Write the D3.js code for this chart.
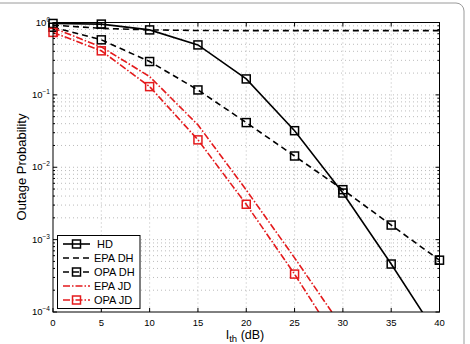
<!DOCTYPE html>
<html>
<head>
<meta charset="utf-8">
<script src="https://cdn.jsdelivr.net/npm/d3@7"></script>
<style>
  html, body { margin: 0; padding: 0; background: #fff; }
  svg { display: block; font-family: "Liberation Sans", Arial, sans-serif; }
</style>
</head>
<body>
<svg id="chart" width="470" height="344"></svg>
<script>
(function () {
  "use strict";
  // threshold I_th in dB
  var xs = [0, 5, 10, 15, 20, 25, 30, 35, 40];
  // outage probability
  var hd    = [0.97, 0.95, 0.79, 0.49, 0.166, 0.032, 0.0044, 0.00046, 0.000043];
  var epaDH = [0.92, 0.83, 0.79, 0.775, 0.772, 0.772, 0.772, 0.772, 0.772];
  var opaDH = [0.86, 0.576, 0.289, 0.117, 0.0414, 0.0143, 0.0049, 0.00159, 0.00052];
  var epaJD = [0.84, 0.46, 0.179, 0.0385, 0.00485, 0.00056, 0.00006];
  var opaJD = [0.73, 0.406, 0.130, 0.0239, 0.00308, 0.000334, 0.00003];
  var xTicks = [0, 5, 10, 15, 20, 25, 30, 35, 40];
  var yTicks = [1e-4, 1e-3, 1e-2, 1e-1, 1];

  var series = [
    { name: "HD", v: hd, color: "#000", dash: null, marker: true },
    { name: "EPA DH", v: epaDH, color: "#000", dash: "6,4", marker: false },
    { name: "OPA DH", v: opaDH, color: "#000", dash: "6,4", marker: true },
    { name: "EPA JD", v: epaJD, color: "#e41a1c", dash: "7,2,1.5,2", marker: false },
    { name: "OPA JD", v: opaJD, color: "#e41a1c", dash: "7,2,1.5,2", marker: true }
  ];

  var L = 53, R = 439.5, T = 22.5, B = 312;
  var svg = d3.select("#chart");
  var x = d3.scaleLinear().domain([0, 40]).range([L, R]);
  var y = d3.scaleLog().domain([1e-4, 1]).range([B, T]);

  // outer rounded frame
  svg.append("rect").attr("x", -10).attr("y", 3).attr("width", 474).attr("height", 360)
    .attr("rx", 8).attr("fill", "none").attr("stroke", "#9a9a9a").attr("stroke-width", 1);

  svg.append("defs").append("clipPath").attr("id", "clip")
    .append("rect").attr("x", L).attr("y", T).attr("width", R - L).attr("height", B - T);

  // grid (dotted), x majors + y majors and minors
  var grid = svg.append("g").attr("stroke", "#aaa").attr("stroke-width", 0.8).attr("stroke-dasharray", "1,3");
  xTicks.slice(1, -1).forEach(function (t) {
    grid.append("line").attr("x1", x(t)).attr("x2", x(t)).attr("y1", T).attr("y2", B);
  });
  var minor = [];
  for (var e = -4; e < 0; e++) for (var m = 1; m < 10; m++) minor.push(m * Math.pow(10, e));
  minor.slice(1).forEach(function (v) {
    grid.append("line").attr("x1", L).attr("x2", R).attr("y1", y(v)).attr("y2", y(v));
  });

  // lines
  var gLines = svg.append("g").attr("clip-path", "url(#clip)");
  series.forEach(function (s) {
    var pts = s.v.map(function (v, i) { return [xs[i], v]; });
    gLines.append("path").datum(pts)
      .attr("d", d3.line().x(function (d) { return x(d[0]); }).y(function (d) { return y(d[1]); }))
      .attr("fill", "none").attr("stroke", s.color).attr("stroke-width", 1.6)
      .attr("stroke-dasharray", s.dash);
    if (s.marker) {
      gLines.selectAll(null).data(pts.filter(function (d) { return d[1] >= 1e-4; })).enter().append("rect")
        .attr("x", function (d) { return x(d[0]) - 4; }).attr("y", function (d) { return y(d[1]) - 4; })
        .attr("width", 8).attr("height", 8).attr("fill", "none")
        .attr("stroke", s.color).attr("stroke-width", 1.5);
    }
  });
  // markers can sit on the frame edge, draw them unclipped too
  series.forEach(function (s) {
    if (!s.marker) return;
    var pts = s.v.map(function (v, i) { return [xs[i], v]; })
      .filter(function (d) { return d[1] >= 1e-4 && (d[0] === 0 || d[0] === 40 || d[1] > 0.8); });
    svg.selectAll(null).data(pts).enter().append("rect")
      .attr("x", function (d) { return x(d[0]) - 4; }).attr("y", function (d) { return y(d[1]) - 4; })
      .attr("width", 8).attr("height", 8).attr("fill", "none")
      .attr("stroke", s.color).attr("stroke-width", 1.5);
  });

  // axes box and inward ticks
  var ax = svg.append("g").attr("stroke", "#000").attr("stroke-width", 1);
  ax.append("rect").attr("x", L).attr("y", T).attr("width", R - L).attr("height", B - T).attr("fill", "none");
  xTicks.forEach(function (t) {
    ax.append("line").attr("x1", x(t)).attr("x2", x(t)).attr("y1", B).attr("y2", B - 4);
    ax.append("line").attr("x1", x(t)).attr("x2", x(t)).attr("y1", T).attr("y2", T + 4);
  });
  yTicks.forEach(function (t) {
    ax.append("line").attr("x1", L).attr("x2", L + 4).attr("y1", y(t)).attr("y2", y(t));
    ax.append("line").attr("x1", R).attr("x2", R - 4).attr("y1", y(t)).attr("y2", y(t));
  });
  minor.forEach(function (v) {
    if (v === 1e-4 || Math.abs(Math.log10(v) % 1) < 1e-9) return;
    ax.append("line").attr("x1", L).attr("x2", L + 2).attr("y1", y(v)).attr("y2", y(v));
    ax.append("line").attr("x1", R).attr("x2", R - 2).attr("y1", y(v)).attr("y2", y(v));
  });

  // tick labels
  svg.selectAll(null).data(xTicks).enter().append("text")
    .attr("x", function (d) { return x(d); }).attr("y", 325.5)
    .attr("text-anchor", "middle").attr("font-size", 9.5).text(function (d) { return d; });
  yTicks.forEach(function (t) {
    var tx = svg.append("text").attr("x", 50).attr("y", y(t) + 3).attr("text-anchor", "end").attr("font-size", 9.5);
    tx.append("tspan").text("10");
    tx.append("tspan").attr("dy", -4).attr("font-size", 6.5).text(String(Math.round(Math.log10(t))).replace("-", "\u2212"));
  });

  // axis titles
  var xl = svg.append("text").attr("x", 245).attr("y", 339).attr("text-anchor", "middle").attr("font-size", 12.5);
  xl.append("tspan").text("I");
  xl.append("tspan").attr("dy", 3).attr("font-size", 9.5).text("th");
  xl.append("tspan").attr("dy", -3).text(" (dB)");
  svg.append("text").attr("transform", "translate(26,167) rotate(-90)")
    .attr("text-anchor", "middle").attr("font-size", 13).text("Outage Probability");

  // legend
  var lg = svg.append("g");
  lg.append("rect").attr("x", 57.5).attr("y", 235.5).attr("width", 82.5).attr("height", 73)
    .attr("fill", "#fff").attr("stroke", "#000").attr("stroke-width", 1);
  series.forEach(function (s, i) {
    var yy = 244 + i * 14;
    lg.append("line").attr("x1", 63).attr("x2", 90).attr("y1", yy).attr("y2", yy)
      .attr("stroke", s.color).attr("stroke-width", 1.6).attr("stroke-dasharray", s.dash);
    if (s.marker) lg.append("rect").attr("x", 72.5).attr("y", yy - 4).attr("width", 8).attr("height", 8)
      .attr("fill", "none").attr("stroke", s.color).attr("stroke-width", 1.5);
    lg.append("text").attr("x", i === 0 ? 97 : 94).attr("y", yy + 4).attr("font-size", 11).text(s.name);
  });
})();
</script>
</body>
</html>
